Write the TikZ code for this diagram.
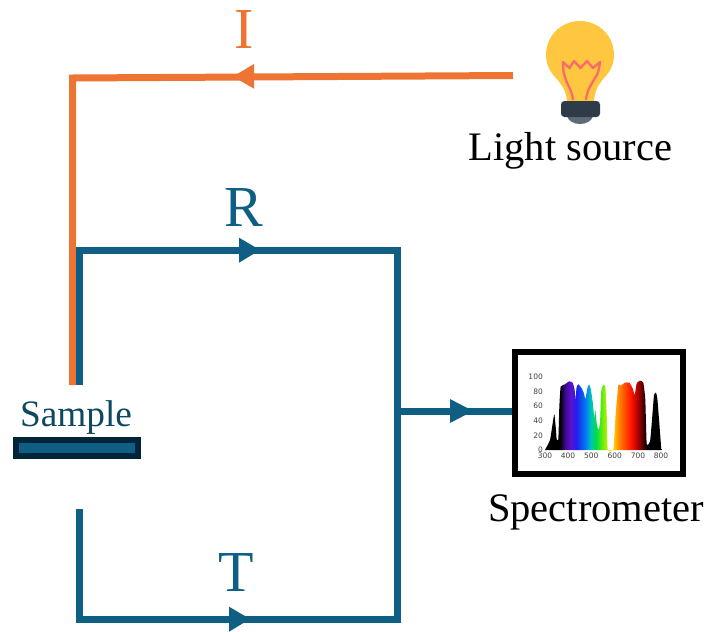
\documentclass[tikz,border=0pt]{standalone}
\usepackage{fontspec}
\setmainfont{Liberation Serif}
\newfontfamily\axisfont{DejaVu Sans}
\definecolor{blueline}{HTML}{0F5F85}
\definecolor{orangeline}{HTML}{ED7433}
\definecolor{sampletext}{HTML}{0F4761}
\definecolor{sampleedge}{HTML}{00243A}
\definecolor{bulbyellow}{HTML}{FFC63F}
\definecolor{bulbbase}{HTML}{2F3B48}
\definecolor{bulbcap}{HTML}{5F6B76}
\definecolor{filament}{HTML}{F96A6A}
\definecolor{specA}{HTML}{3A0A88}
\definecolor{specB}{HTML}{6010D0}
\definecolor{specC}{HTML}{2020F0}
\definecolor{specD}{HTML}{0080F0}
\definecolor{specE}{HTML}{00C0C0}
\definecolor{specF}{HTML}{00E040}
\definecolor{specG}{HTML}{90F000}
\definecolor{specH}{HTML}{FFF000}
\definecolor{specI}{HTML}{FF8800}
\definecolor{specJ}{HTML}{FF1000}
\definecolor{specK}{HTML}{900000}
\pgfdeclarehorizontalshading{specshade}{100bp}{
 color(0bp)=(black); color(31.5bp)=(black);
 color(33.5bp)=(specA); color(36bp)=(specB);
 color(38.5bp)=(specC); color(42.5bp)=(specD); color(44.5bp)=(specE);
 color(47bp)=(specF); color(50.5bp)=(specG);
 color(53.5bp)=(specH); color(56.5bp)=(specI);
 color(62bp)=(specJ); color(65.5bp)=(specK); color(68.5bp)=(black); color(100bp)=(black)}
\tikzset{
 bluepath/.style={draw=blueline,line width=7pt},
 orangepath/.style={draw=orangeline,line width=7pt},
 bluehead/.style={fill=blueline,draw=none},
 orangehead/.style={fill=orangeline,draw=none},
 biglabel/.style={font=\fontsize{58}{58}\selectfont,inner sep=0pt},
 blacklabel/.style={font=\fontsize{40.5}{40.5}\selectfont,text=black,inner sep=0pt},
 ticklabel/.style={font=\axisfont\fontsize{7.5}{7.5}\selectfont,text=black!75,inner sep=0pt}
}
\begin{document}
\begin{tikzpicture}[x=1pt,y=-1pt,line join=miter]
\useasboundingbox (0,0) rectangle (705,632);
\coordinate (srcEnd) at (513,75.5);
\coordinate (iCorner) at (72.5,78);
\coordinate (iEnd) at (72.5,385);
\coordinate (rStart) at (79,385);
\coordinate (rCorner) at (79,250);
\coordinate (rRight) at (397,250);
\coordinate (bRight) at (397,619);
\coordinate (bLeft) at (79,619);
\coordinate (tStart) at (79,509);
\coordinate (junction) at (397,411);
\draw[orangepath] (srcEnd) -- (iCorner) -- (iEnd);
\draw[bluepath] (rStart) -- (rCorner) -- (rRight) -- (bRight) -- (bLeft) -- (tStart);
\node[draw=black,line width=6.5pt,fill=white,minimum width=168pt,minimum height=122pt,inner sep=0pt] (spec) at (599,413) {};
\draw[bluepath] (junction) -- (junction -| spec.west);
\fill[orangehead] (233,76.5) -- (254,64) -- (254,88.7) -- cycle;
\fill[bluehead] (260,250) -- (239,237.7) -- (239,262.7) -- cycle;
\fill[bluehead] (250,619) -- (229,606.7) -- (229,631.7) -- cycle;
\fill[bluehead] (473,411) -- (450,399) -- (450,423) -- cycle;
\node[biglabel,text=orangeline] (I) at (244,30) {I};
\node[biglabel,text=blueline] (R) at (243.5,208) {R};
\node[biglabel,text=blueline] (T) at (236,573) {T};
\node[font=\fontsize{37.3}{37.3}\selectfont,text=sampletext,inner sep=0pt] (sampleLabel) at (76,418) {Sample};
\node[draw=sampleedge,fill=blueline,line width=6pt,minimum width=122pt,minimum height=16pt,inner sep=0pt] (sample) at (77,448) {};
\node[blacklabel] (lightLabel) at (570.5,151) {Light source};
\node[blacklabel] (specLabel) at (596,512) {Spectrometer};
% bulb
\fill[bulbyellow] (567,103)
 .. controls (567,92) and (562,85) .. (556,78)
 .. controls (549,71) and (546,63) .. (546,55)
 .. controls (546,36) and (561,21) .. (580,21)
 .. controls (599,21) and (614,36) .. (614,55)
 .. controls (614,63) and (611,71) .. (604,78)
 .. controls (598,85) and (594,92) .. (594,103) -- cycle;
\draw[filament,line width=2.3pt,line join=round,fill=none]
 (573,100) .. controls (572,90) and (567,85) .. (565,77) .. controls (563,72) and (563,66) .. (563,62)
 -- (569.5,68) -- (574,61) -- (580.5,68) -- (587,61) -- (593,68) -- (600,62)
 .. controls (599,70) and (598,74) .. (595,78) .. controls (591,85) and (587,90) .. (586,100);
\fill[bulbcap] (567,116) -- (593,116) .. controls (592,121) and (586,124) .. (580,124) .. controls (574,124) and (568,121) .. (567,116) -- cycle;
\fill[bulbbase,rounded corners=3.5pt] (561,101) rectangle (600,117);
% spectrum
\begin{scope}[shift={(500,340)},x=0.33333pt,y=-0.33333pt]
\begin{scope}
\clip plot[smooth,tension=0.25] coordinates {
 (135,330) (150,300) (158,250) (163,222) (168,270) (170,298) (175,298) (178,200) (182,140)
 (195,133) (207,124) (218,128) (224,150) (226,180) (230,140) (236,133) (245,145) (252,160)
 (256,178) (262,145) (267,133) (272,145) (278,185) (283,235) (286,210) (290,250) (295,270)
 (300,250) (304,150) (310,135) (316,140) (320,220) (323,328) (340,328) (347,220) (355,135)
 (362,137) (375,128) (388,128) (398,145) (404,165) (410,130) (420,122) (430,128) (436,180)
 (440,312) (450,305) (456,240) (462,165) (468,158) (472,175) (478,250) (484,330)};
\shade[shading=specshade] (135,110) rectangle (485,331);
\end{scope}
\foreach \v/\yy in {100/110,80/154,60/198,40/242,20/286,0/328}
  \node[ticklabel,anchor=east] (y\v) at (129,\yy) {\v};
\foreach \l/\xx in {300/135,400/204,500/274,600/344,700/414,800/483}
  \node[ticklabel] (x\l) at (\xx,346) {\l};
\end{scope}
\end{tikzpicture}
\end{document}
